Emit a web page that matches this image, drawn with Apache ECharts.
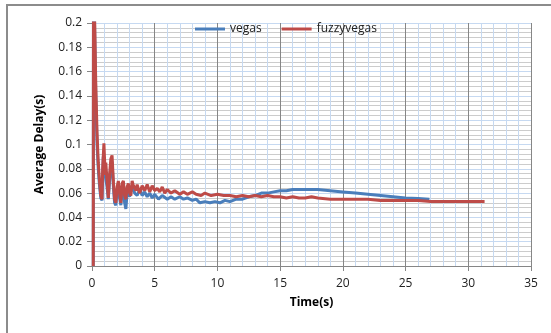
<!DOCTYPE html>
<html><head><meta charset="utf-8">
<script src="https://cdn.jsdelivr.net/npm/echarts@6/dist/echarts.min.js"></script>
<style>html,body{margin:0;padding:0;background:#fff}#c{width:551px;height:333px}</style>
</head><body><div id="c"></div>
<script>
const seriesNames = ['vegas', 'fuzzyvegas'];
const xTicks = [0, 5, 10, 15, 20, 25, 30, 35];
const yTicks = [0, 0.02, 0.04, 0.06, 0.08, 0.1, 0.12, 0.14, 0.16, 0.18, 0.2];

const vegasTime = [0.1,0.12,0.2,0.3,0.4,0.5,0.6,0.7,0.8,0.9,1.0,1.1,1.2,1.3,1.4,1.5,1.6,1.7,1.8,1.9,2.0,2.1,2.2,2.3,2.4,2.5,2.6,2.7,2.8,2.9,3.0,3.2,3.4,3.6,3.8,4.0,4.2,4.4,4.6,4.8,5.0,5.3,5.6,6.0,6.3,6.6,7.0,7.3,7.6,8.0,8.3,8.6,9.0,9.4,9.8,10.2,10.6,11,11.5,12,12.5,13,13.5,14,14.5,15,15.5,16,16.5,17,17.5,18,19,20,21,22,23,24,25,26,26.9];
const vegasDelay = [0,0.25,0.2,0.14,0.1,0.08,0.066,0.056,0.054,0.09,0.08,0.072,0.065,0.055,0.07,0.082,0.086,0.066,0.052,0.05,0.062,0.066,0.056,0.05,0.063,0.066,0.052,0.047,0.06,0.064,0.057,0.066,0.06,0.058,0.063,0.058,0.061,0.057,0.06,0.056,0.059,0.055,0.058,0.055,0.057,0.055,0.057,0.055,0.056,0.054,0.055,0.052,0.053,0.052,0.053,0.052,0.054,0.053,0.055,0.055,0.057,0.058,0.06,0.06,0.061,0.062,0.062,0.063,0.063,0.063,0.063,0.063,0.062,0.061,0.06,0.059,0.058,0.057,0.056,0.0555,0.055];

const fuzzyTime = [0.1,0.12,0.2,0.3,0.4,0.5,0.6,0.7,0.8,0.85,0.95,1.05,1.1,1.2,1.3,1.4,1.5,1.6,1.7,1.8,1.9,2.0,2.1,2.2,2.3,2.4,2.5,2.6,2.7,2.8,2.9,3.0,3.1,3.2,3.3,3.5,3.6,3.8,4.0,4.2,4.4,4.6,4.8,5.0,5.2,5.4,5.6,5.8,6.0,6.3,6.6,7.0,7.3,7.6,8.0,8.3,8.7,9.0,9.5,10.0,10.5,11,11.5,12,12.5,13,13.5,14,14.5,15,15.5,16,16.5,17,17.5,18,19,20,21,22,23,24,25,26,27,28,29,30,31.3];
const fuzzyDelay = [0,0.25,0.21,0.15,0.11,0.085,0.07,0.058,0.055,0.08,0.101,0.075,0.085,0.07,0.056,0.075,0.088,0.091,0.07,0.055,0.052,0.065,0.07,0.06,0.052,0.068,0.07,0.058,0.055,0.065,0.068,0.06,0.058,0.07,0.066,0.062,0.067,0.06,0.066,0.062,0.067,0.061,0.066,0.062,0.064,0.061,0.065,0.06,0.063,0.06,0.062,0.059,0.061,0.059,0.061,0.059,0.058,0.06,0.058,0.059,0.058,0.058,0.057,0.058,0.057,0.058,0.057,0.058,0.057,0.057,0.056,0.057,0.056,0.056,0.057,0.056,0.055,0.055,0.055,0.055,0.054,0.054,0.054,0.054,0.053,0.053,0.053,0.053,0.053];

const pair = (t, v) => t.map((x, i) => [x, v[i]]);
const font = '"Open Sans", "Noto Sans", sans-serif';

const chart = echarts.init(document.getElementById('c'));
chart.setOption({
  animation: false,
  backgroundColor: '#fff',
  graphic: [{ type: 'rect', shape: { x: 7, y: 5, width: 600, height: 400 }, style: { fill: 'none', stroke: '#8c8c8c', lineWidth: 2 }, z: -10 }],
  legend: {
    top: 18, left: 190, itemWidth: 30, itemHeight: 3, itemGap: 20,
    icon: 'rect',
    textStyle: { fontFamily: font, fontSize: 12, color: '#222' },
    data: seriesNames
  },
  grid: { left: 92, top: 23, right: 20, bottom: 67, containLabel: false },
  xAxis: {
    type: 'value', min: xTicks[0], max: xTicks[xTicks.length - 1], interval: 5,
    name: 'Time(s)', nameLocation: 'middle', nameGap: 31,
    nameTextStyle: { fontFamily: font, fontWeight: 'bold', fontSize: 12, color: '#000' },
    axisLine: { lineStyle: { color: '#868686', width: 1 } },
    axisTick: { show: true, length: 5, lineStyle: { color: '#868686' } },
    axisLabel: { fontFamily: font, fontSize: 12, color: '#222', margin: 12 },
    splitLine: { show: true, lineStyle: { color: '#868686', width: 1 } },
    minorTick: { show: false, splitNumber: 5 },
    minorSplitLine: { show: true, lineStyle: { color: '#c6d9f1', width: 1 } }
  },
  yAxis: {
    type: 'value', min: yTicks[0], max: yTicks[yTicks.length - 1], interval: 0.02,
    name: 'Average Delay(s)', nameLocation: 'middle', nameGap: 46, nameRotate: 90,
    nameTextStyle: { fontFamily: font, fontWeight: 'bold', fontSize: 12, color: '#000' },
    axisLine: { show: true, lineStyle: { color: '#868686', width: 1 } },
    axisTick: { show: true, length: 5, lineStyle: { color: '#868686' } },
    axisLabel: { fontFamily: font, fontSize: 12, color: '#222', margin: 10, formatter: v => String(+v.toFixed(2)) },
    splitLine: { show: true, lineStyle: { color: '#c6d9f1', width: 1 } },
    minorTick: { show: false, splitNumber: 5 },
    minorSplitLine: { show: true, lineStyle: { color: '#cccccc', width: 1 } }
  },
  series: [
    { name: seriesNames[0], type: 'line', data: pair(vegasTime, vegasDelay), showSymbol: false, clip: true,
      lineStyle: { color: '#4a7ebb', width: 3 }, itemStyle: { color: '#4a7ebb' } },
    { name: seriesNames[1], type: 'line', data: pair(fuzzyTime, fuzzyDelay), showSymbol: false, clip: true,
      lineStyle: { color: '#be4b48', width: 3 }, itemStyle: { color: '#be4b48' } }
  ]
});
</script></body></html>
